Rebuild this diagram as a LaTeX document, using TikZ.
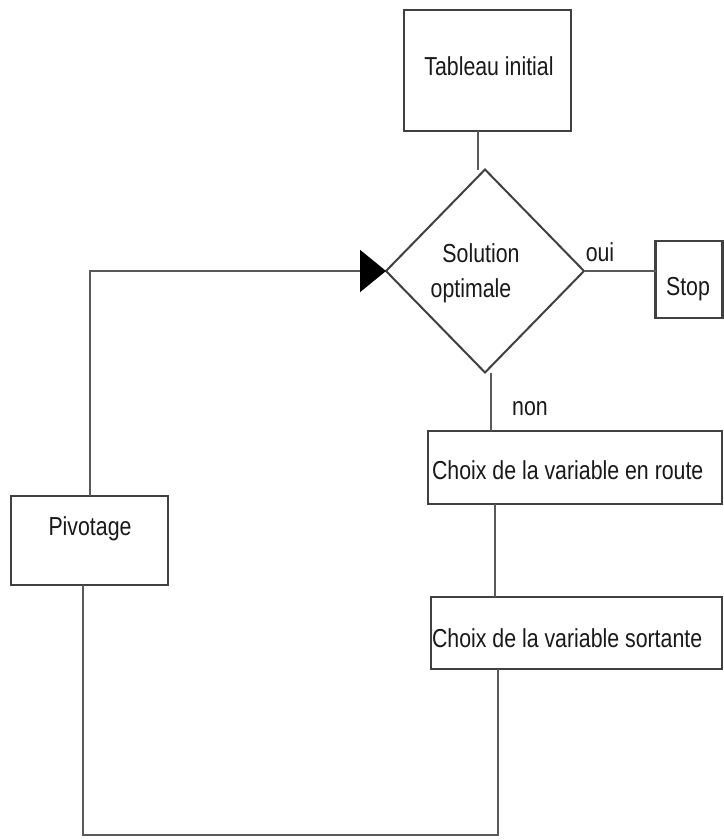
\documentclass[tikz,border=0pt]{standalone}
\usepackage{fontspec}
\setmainfont{Liberation Sans}[FakeStretch=0.82]
\usetikzlibrary{shapes.geometric,arrows.meta}
\begin{document}
\begin{tikzpicture}[x=1pt,y=-1pt,
  every node/.style={font=\fontsize{26}{35}\selectfont, inner sep=0pt, outer sep=0pt, text=black!90},
  box/.style={draw=black!75, line width=2.2pt, rectangle, fill=white},
  conn/.style={draw=black!65, line width=2pt},
  lbl/.style={}]
\useasboundingbox (0,0) rectangle (723,840);
\fill[white] (0,0) rectangle (723,840);
% boxes
\node[box, minimum width=167pt, minimum height=121pt] (tab) at (487.5,70.5) {};
\node at (489,66) {Tableau initial};
\node[draw=black!75, line width=2pt, diamond, minimum width=198pt, minimum height=203pt, aspect=0.975] (d) at (485,271) {};
\node[align=center] (dtext) at (471,273) {\hspace*{20pt}Solution\\optimale};
\node[box, minimum width=67pt, minimum height=77pt] (stop) at (689,279.5) {};
\node at (688,289) {Stop};
\node[box, minimum width=294pt, minimum height=73pt] (route) at (575,467.5) {};
\node[anchor=west] at (432,470) {Choix de la variable en route};
\node[box, minimum width=291pt, minimum height=72pt] (sort) at (576.5,633) {};
\node[anchor=west] at (432,638) {Choix de la variable sortante};
\node[box, minimum width=157pt, minimum height=89pt] (piv) at (89.5,540.5) {};
\node at (90,529) {Pivotage};
% labels
\node (oui) at (600,252) {oui};
\node (non) at (530,409) {non};
% column coordinates
\coordinate (c1) at (478,0);
\coordinate (c2) at (491,0);
\coordinate (c3) at (495,0);
\coordinate (c4) at (498,0);
\coordinate (bot) at (83,835);
% connectors
\draw[conn] (c1 |- tab.south) -- (c1 |- d.north);
\draw[conn] (d.east) -- (d.east -| stop.west);
\draw[conn] (c2 |- d.south) -- (c2 |- route.north);
\draw[conn] (c3 |- route.south) -- (c3 |- sort.north);
\draw[conn] (c4 |- sort.south) -- (c4 |- bot) -- (bot) -- (bot |- piv.south);
\draw[conn, -{Triangle[length=26pt,width=42pt,fill=black,color=black]}] (piv.north) |- (d.west);
\end{tikzpicture}
\end{document}
